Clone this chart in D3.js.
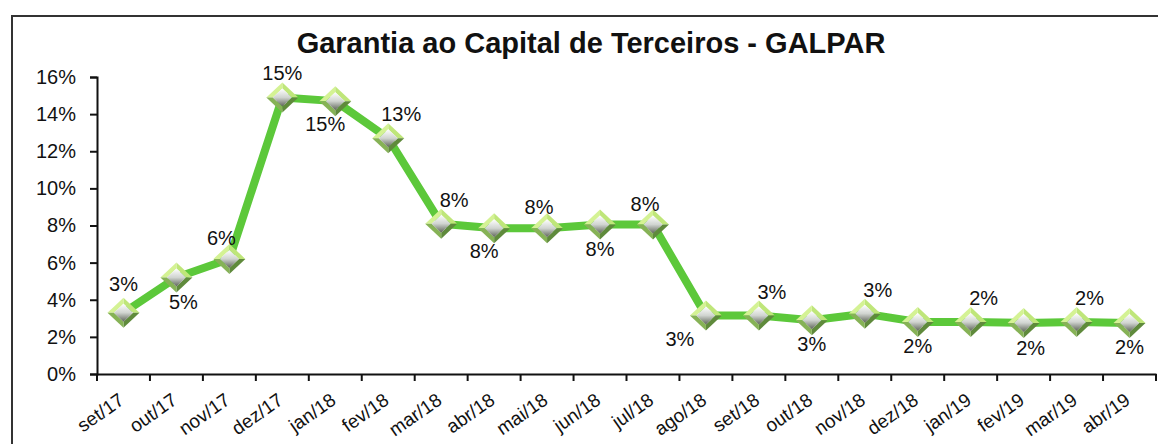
<!DOCTYPE html>
<html>
<head>
<meta charset="utf-8">
<script src="https://cdn.jsdelivr.net/npm/d3@7"></script>
<style>
  html, body { margin: 0; padding: 0; background: #fff; }
  svg { display: block; font-family: Arial, "Liberation Sans", sans-serif; }
</style>
</head>
<body>
<svg id="chart" width="1158" height="444"></svg>
<script>
const title = "Garantia ao Capital de Terceiros - GALPAR";
const months = ["set/17","out/17","nov/17","dez/17","jan/18","fev/18","mar/18","abr/18","mai/18","jun/18",
                "jul/18","ago/18","set/18","out/18","nov/18","dez/18","jan/19","fev/19","mar/19","abr/19"];
const values = [3.3, 5.2, 6.2, 14.9, 14.7, 12.7, 8.1, 7.85, 7.85, 8.05,
                8.05, 3.15, 3.15, 2.9, 3.25, 2.8, 2.8, 2.75, 2.8, 2.75];
const valueLabels = ["3%","5%","6%","15%","15%","13%","8%","8%","8%","8%",
                     "8%","3%","3%","3%","3%","2%","2%","2%","2%","2%"];
const labelPlacement = ["above","below-right","above-left","above","below-left","above-right","above-right","below-left","above-left","below",
                        "above-left","below-left","above-right","below","above-right","below","above-right","below-right","above-right","below"];
const yTicks = [0, 2, 4, 6, 8, 10, 12, 14, 16];

const svg = d3.select("#chart");
const W = 1158, H = 444;
const plot = { left: 97, right: 1156, top: 77, bottom: 374 };
const FONT = "Arial, 'Liberation Sans', sans-serif";

// outer frame
svg.append("rect").attr("x", 12).attr("y", 16).attr("width", W + 20).attr("height", H + 20)
  .attr("fill", "none").attr("stroke", "#333").attr("stroke-width", 2);

svg.append("text").attr("x", 591).attr("y", 53).attr("text-anchor", "middle")
  .attr("font-size", 29).attr("font-weight", "bold").attr("fill", "#111").text(title);

const x = d3.scaleBand().domain(months).range([plot.left, plot.right]).padding(0);
const y = d3.scaleLinear().domain([0, 16]).range([plot.bottom, plot.top]);

// Y axis
const yAxis = svg.append("g").attr("transform", `translate(${plot.left},0)`)
  .call(d3.axisLeft(y).tickValues(yTicks).tickFormat(d => d + "%").tickSize(7).tickPadding(14));
yAxis.select(".domain").attr("stroke", "#111").attr("stroke-width", 2);
yAxis.selectAll(".tick line").attr("stroke", "#111").attr("stroke-width", 2);
yAxis.selectAll(".tick text").attr("font-size", 20).attr("fill", "#111").attr("font-family", FONT);

// X axis
const xAxis = svg.append("g").attr("transform", `translate(0,${plot.bottom})`)
  .call(d3.axisBottom(x).tickSize(0).tickPadding(0));
xAxis.select(".domain").attr("stroke", "#111").attr("stroke-width", 2);
xAxis.selectAll(".tick text")
  .attr("font-size", 19).attr("fill", "#111").attr("font-family", FONT)
  .attr("text-anchor", "end")
  .attr("dy", 0).attr("y", 0)
  .attr("transform", "translate(2,29) rotate(-35)");
// boundary ticks
const bounds = months.map(m => x(m)).concat([x(months[months.length - 1]) + x.bandwidth()]);
xAxis.selectAll(".btick").data(bounds).enter().append("line")
  .attr("class", "btick").attr("x1", d => d).attr("x2", d => d)
  .attr("y1", 0).attr("y2", 7).attr("stroke", "#111").attr("stroke-width", 2);

const cx = (d, i) => x(months[i]) + x.bandwidth() / 2;

// line
const line = d3.line().x((d, i) => cx(d, i)).y(d => y(d));
svg.append("path").datum(values).attr("d", line)
  .attr("fill", "none").attr("stroke", "#5cc83a").attr("stroke-width", 8)
  .attr("stroke-linejoin", "round");

// marker gradient
const defs = svg.append("defs");
const g1 = defs.append("linearGradient").attr("id", "core").attr("x1", 0).attr("y1", 0).attr("x2", 0).attr("y2", 1);
g1.append("stop").attr("offset", "0%").attr("stop-color", "#ffffff");
g1.append("stop").attr("offset", "50%").attr("stop-color", "#d0d4d0");
g1.append("stop").attr("offset", "100%").attr("stop-color", "#5e6458");

const hw = 16, hh = 15, ihw = 9.5, ihh = 9;
const markers = svg.append("g").selectAll("g").data(values).enter().append("g")
  .attr("transform", (d, i) => `translate(${cx(d, i)},${y(d)})`);
const facet = (pts, color) => markers.append("path").attr("d", "M" + pts.map(p => p.join(",")).join("L") + "Z").attr("fill", color);
facet([[0,-hh],[hw,0],[ihw,0],[0,-ihh]], "#bfe67a");
facet([[-hw,0],[0,-hh],[0,-ihh],[-ihw,0]], "#d4f294");
facet([[hw,0],[0,hh],[0,ihh],[ihw,0]], "#5f8a3c");
facet([[0,hh],[-hw,0],[-ihw,0],[0,ihh]], "#86b256");
markers.append("path").attr("d", `M0,${-ihh}L${ihw},0L0,${ihh}L${-ihw},0Z`).attr("fill", "url(#core)");

// data labels
const offsets = {
  "above": [0, -24], "below": [0, 24],
  "above-left": [-8, -21], "above-right": [13, -24],
  "below-left": [-10, 23], "below-right": [7, 25]
};
svg.append("g").selectAll("text").data(values).enter().append("text")
  .attr("x", (d, i) => cx(d, i) + offsets[labelPlacement[i]][0] + (i === 11 ? -16 : 0))
  .attr("y", (d, i) => y(d) + offsets[labelPlacement[i]][1] + (i === 0 ? -5 : 0))
  .attr("dy", "0.35em").attr("text-anchor", "middle")
  .attr("font-size", 20).attr("fill", "#111")
  .text((d, i) => valueLabels[i]);
</script>
</body>
</html>
